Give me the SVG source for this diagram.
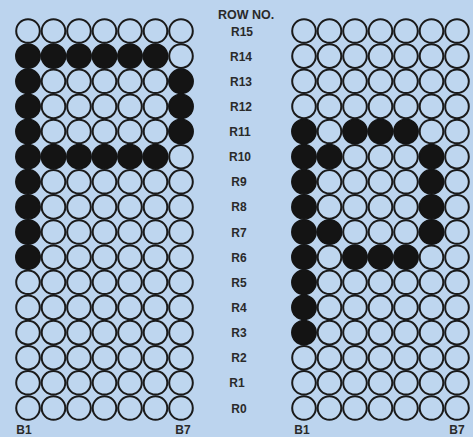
<svg xmlns="http://www.w3.org/2000/svg" width="473" height="437" viewBox="0 0 473 437">
<defs>
<style>
.e{fill:#bed6ef;stroke:#1a1a1a;stroke-width:2}
.f{fill:#141414;stroke:#141414;stroke-width:1.5}
.t{font-family:"Liberation Sans",Arial,sans-serif;font-size:12px;fill:#2a2a2a;text-anchor:middle;font-weight:bold}
</style>
<circle id="o" class="e" r="11.8"/>
<circle id="x" class="f" r="12.2"/>
</defs>
<rect width="473" height="437" fill="#bcd4ee"/>
<g id="left-grid">
<g id="L-R15"><use href="#o" x="28" y="31"/><use href="#o" x="53.5" y="31"/><use href="#o" x="79" y="31"/><use href="#o" x="104.5" y="31"/><use href="#o" x="130" y="31"/><use href="#o" x="155.5" y="31"/><use href="#o" x="181" y="31"/></g>
<g id="L-R14"><use href="#x" x="28" y="56.1"/><use href="#x" x="53.5" y="56.1"/><use href="#x" x="79" y="56.1"/><use href="#x" x="104.5" y="56.1"/><use href="#x" x="130" y="56.1"/><use href="#x" x="155.5" y="56.1"/><use href="#o" x="181" y="56.1"/></g>
<g id="L-R13"><use href="#x" x="28" y="81.3"/><use href="#o" x="53.5" y="81.3"/><use href="#o" x="79" y="81.3"/><use href="#o" x="104.5" y="81.3"/><use href="#o" x="130" y="81.3"/><use href="#o" x="155.5" y="81.3"/><use href="#x" x="181" y="81.3"/></g>
<g id="L-R12"><use href="#x" x="28" y="106.4"/><use href="#o" x="53.5" y="106.4"/><use href="#o" x="79" y="106.4"/><use href="#o" x="104.5" y="106.4"/><use href="#o" x="130" y="106.4"/><use href="#o" x="155.5" y="106.4"/><use href="#x" x="181" y="106.4"/></g>
<g id="L-R11"><use href="#x" x="28" y="131.5"/><use href="#o" x="53.5" y="131.5"/><use href="#o" x="79" y="131.5"/><use href="#o" x="104.5" y="131.5"/><use href="#o" x="130" y="131.5"/><use href="#o" x="155.5" y="131.5"/><use href="#x" x="181" y="131.5"/></g>
<g id="L-R10"><use href="#x" x="28" y="156.7"/><use href="#x" x="53.5" y="156.7"/><use href="#x" x="79" y="156.7"/><use href="#x" x="104.5" y="156.7"/><use href="#x" x="130" y="156.7"/><use href="#x" x="155.5" y="156.7"/><use href="#o" x="181" y="156.7"/></g>
<g id="L-R9"><use href="#x" x="28" y="181.8"/><use href="#o" x="53.5" y="181.8"/><use href="#o" x="79" y="181.8"/><use href="#o" x="104.5" y="181.8"/><use href="#o" x="130" y="181.8"/><use href="#o" x="155.5" y="181.8"/><use href="#o" x="181" y="181.8"/></g>
<g id="L-R8"><use href="#x" x="28" y="206.9"/><use href="#o" x="53.5" y="206.9"/><use href="#o" x="79" y="206.9"/><use href="#o" x="104.5" y="206.9"/><use href="#o" x="130" y="206.9"/><use href="#o" x="155.5" y="206.9"/><use href="#o" x="181" y="206.9"/></g>
<g id="L-R7"><use href="#x" x="28" y="232"/><use href="#o" x="53.5" y="232"/><use href="#o" x="79" y="232"/><use href="#o" x="104.5" y="232"/><use href="#o" x="130" y="232"/><use href="#o" x="155.5" y="232"/><use href="#o" x="181" y="232"/></g>
<g id="L-R6"><use href="#x" x="28" y="257.2"/><use href="#o" x="53.5" y="257.2"/><use href="#o" x="79" y="257.2"/><use href="#o" x="104.5" y="257.2"/><use href="#o" x="130" y="257.2"/><use href="#o" x="155.5" y="257.2"/><use href="#o" x="181" y="257.2"/></g>
<g id="L-R5"><use href="#o" x="28" y="282.3"/><use href="#o" x="53.5" y="282.3"/><use href="#o" x="79" y="282.3"/><use href="#o" x="104.5" y="282.3"/><use href="#o" x="130" y="282.3"/><use href="#o" x="155.5" y="282.3"/><use href="#o" x="181" y="282.3"/></g>
<g id="L-R4"><use href="#o" x="28" y="307.4"/><use href="#o" x="53.5" y="307.4"/><use href="#o" x="79" y="307.4"/><use href="#o" x="104.5" y="307.4"/><use href="#o" x="130" y="307.4"/><use href="#o" x="155.5" y="307.4"/><use href="#o" x="181" y="307.4"/></g>
<g id="L-R3"><use href="#o" x="28" y="332.6"/><use href="#o" x="53.5" y="332.6"/><use href="#o" x="79" y="332.6"/><use href="#o" x="104.5" y="332.6"/><use href="#o" x="130" y="332.6"/><use href="#o" x="155.5" y="332.6"/><use href="#o" x="181" y="332.6"/></g>
<g id="L-R2"><use href="#o" x="28" y="357.7"/><use href="#o" x="53.5" y="357.7"/><use href="#o" x="79" y="357.7"/><use href="#o" x="104.5" y="357.7"/><use href="#o" x="130" y="357.7"/><use href="#o" x="155.5" y="357.7"/><use href="#o" x="181" y="357.7"/></g>
<g id="L-R1"><use href="#o" x="28" y="382.8"/><use href="#o" x="53.5" y="382.8"/><use href="#o" x="79" y="382.8"/><use href="#o" x="104.5" y="382.8"/><use href="#o" x="130" y="382.8"/><use href="#o" x="155.5" y="382.8"/><use href="#o" x="181" y="382.8"/></g>
<g id="L-R0"><use href="#o" x="28" y="408"/><use href="#o" x="53.5" y="408"/><use href="#o" x="79" y="408"/><use href="#o" x="104.5" y="408"/><use href="#o" x="130" y="408"/><use href="#o" x="155.5" y="408"/><use href="#o" x="181" y="408"/></g>
</g>
<g id="right-grid">
<g id="R-R15"><use href="#o" x="304" y="31"/><use href="#o" x="329.5" y="31"/><use href="#o" x="355" y="31"/><use href="#o" x="380.5" y="31"/><use href="#o" x="406" y="31"/><use href="#o" x="431.5" y="31"/><use href="#o" x="457" y="31"/></g>
<g id="R-R14"><use href="#o" x="304" y="56.1"/><use href="#o" x="329.5" y="56.1"/><use href="#o" x="355" y="56.1"/><use href="#o" x="380.5" y="56.1"/><use href="#o" x="406" y="56.1"/><use href="#o" x="431.5" y="56.1"/><use href="#o" x="457" y="56.1"/></g>
<g id="R-R13"><use href="#o" x="304" y="81.3"/><use href="#o" x="329.5" y="81.3"/><use href="#o" x="355" y="81.3"/><use href="#o" x="380.5" y="81.3"/><use href="#o" x="406" y="81.3"/><use href="#o" x="431.5" y="81.3"/><use href="#o" x="457" y="81.3"/></g>
<g id="R-R12"><use href="#o" x="304" y="106.4"/><use href="#o" x="329.5" y="106.4"/><use href="#o" x="355" y="106.4"/><use href="#o" x="380.5" y="106.4"/><use href="#o" x="406" y="106.4"/><use href="#o" x="431.5" y="106.4"/><use href="#o" x="457" y="106.4"/></g>
<g id="R-R11"><use href="#x" x="304" y="131.5"/><use href="#o" x="329.5" y="131.5"/><use href="#x" x="355" y="131.5"/><use href="#x" x="380.5" y="131.5"/><use href="#x" x="406" y="131.5"/><use href="#o" x="431.5" y="131.5"/><use href="#o" x="457" y="131.5"/></g>
<g id="R-R10"><use href="#x" x="304" y="156.7"/><use href="#x" x="329.5" y="156.7"/><use href="#o" x="355" y="156.7"/><use href="#o" x="380.5" y="156.7"/><use href="#o" x="406" y="156.7"/><use href="#x" x="431.5" y="156.7"/><use href="#o" x="457" y="156.7"/></g>
<g id="R-R9"><use href="#x" x="304" y="181.8"/><use href="#o" x="329.5" y="181.8"/><use href="#o" x="355" y="181.8"/><use href="#o" x="380.5" y="181.8"/><use href="#o" x="406" y="181.8"/><use href="#x" x="431.5" y="181.8"/><use href="#o" x="457" y="181.8"/></g>
<g id="R-R8"><use href="#x" x="304" y="206.9"/><use href="#o" x="329.5" y="206.9"/><use href="#o" x="355" y="206.9"/><use href="#o" x="380.5" y="206.9"/><use href="#o" x="406" y="206.9"/><use href="#x" x="431.5" y="206.9"/><use href="#o" x="457" y="206.9"/></g>
<g id="R-R7"><use href="#x" x="304" y="232"/><use href="#x" x="329.5" y="232"/><use href="#o" x="355" y="232"/><use href="#o" x="380.5" y="232"/><use href="#o" x="406" y="232"/><use href="#x" x="431.5" y="232"/><use href="#o" x="457" y="232"/></g>
<g id="R-R6"><use href="#x" x="304" y="257.2"/><use href="#o" x="329.5" y="257.2"/><use href="#x" x="355" y="257.2"/><use href="#x" x="380.5" y="257.2"/><use href="#x" x="406" y="257.2"/><use href="#o" x="431.5" y="257.2"/><use href="#o" x="457" y="257.2"/></g>
<g id="R-R5"><use href="#x" x="304" y="282.3"/><use href="#o" x="329.5" y="282.3"/><use href="#o" x="355" y="282.3"/><use href="#o" x="380.5" y="282.3"/><use href="#o" x="406" y="282.3"/><use href="#o" x="431.5" y="282.3"/><use href="#o" x="457" y="282.3"/></g>
<g id="R-R4"><use href="#x" x="304" y="307.4"/><use href="#o" x="329.5" y="307.4"/><use href="#o" x="355" y="307.4"/><use href="#o" x="380.5" y="307.4"/><use href="#o" x="406" y="307.4"/><use href="#o" x="431.5" y="307.4"/><use href="#o" x="457" y="307.4"/></g>
<g id="R-R3"><use href="#x" x="304" y="332.6"/><use href="#o" x="329.5" y="332.6"/><use href="#o" x="355" y="332.6"/><use href="#o" x="380.5" y="332.6"/><use href="#o" x="406" y="332.6"/><use href="#o" x="431.5" y="332.6"/><use href="#o" x="457" y="332.6"/></g>
<g id="R-R2"><use href="#o" x="304" y="357.7"/><use href="#o" x="329.5" y="357.7"/><use href="#o" x="355" y="357.7"/><use href="#o" x="380.5" y="357.7"/><use href="#o" x="406" y="357.7"/><use href="#o" x="431.5" y="357.7"/><use href="#o" x="457" y="357.7"/></g>
<g id="R-R1"><use href="#o" x="304" y="382.8"/><use href="#o" x="329.5" y="382.8"/><use href="#o" x="355" y="382.8"/><use href="#o" x="380.5" y="382.8"/><use href="#o" x="406" y="382.8"/><use href="#o" x="431.5" y="382.8"/><use href="#o" x="457" y="382.8"/></g>
<g id="R-R0"><use href="#o" x="304" y="408"/><use href="#o" x="329.5" y="408"/><use href="#o" x="355" y="408"/><use href="#o" x="380.5" y="408"/><use href="#o" x="406" y="408"/><use href="#o" x="431.5" y="408"/><use href="#o" x="457" y="408"/></g>
</g>
<g id="labels" class="t">
<text x="246" y="19" font-size="12.5">ROW NO.</text>
<text x="242" y="35.5">R15</text>
<text x="241" y="60.6">R14</text>
<text x="241" y="85.8">R13</text>
<text x="241" y="110.9">R12</text>
<text x="240" y="136">R11</text>
<text x="240" y="161.2">R10</text>
<text x="239" y="186.3">R9</text>
<text x="239" y="211.4">R8</text>
<text x="239" y="236.5">R7</text>
<text x="239" y="261.7">R6</text>
<text x="239" y="286.8">R5</text>
<text x="239" y="311.9">R4</text>
<text x="239" y="337.1">R3</text>
<text x="239" y="362.2">R2</text>
<text x="237" y="387.3">R1</text>
<text x="239" y="412.5">R0</text>
<text x="24" y="434">B1</text>
<text x="183" y="434">B7</text>
<text x="302" y="434">B1</text>
<text x="457" y="434">B7</text>
</g>
</svg>
